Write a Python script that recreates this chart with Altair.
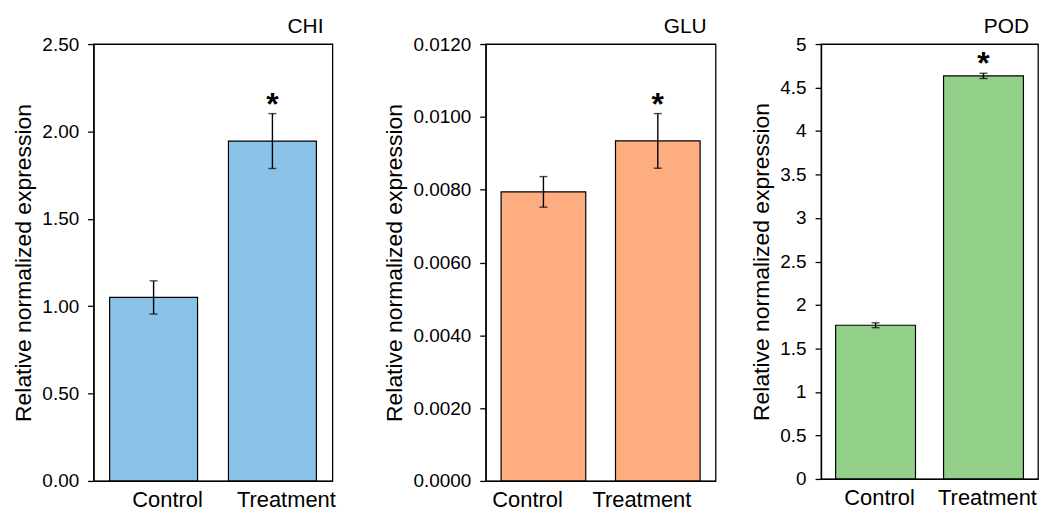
import altair as alt
import pandas as pd

groups = ["Control", "Treatment"]
signif = ["", "*"]

chi_mean = [1.05, 1.945]
chi_err = [0.095, 0.157]
glu_mean = [0.00794, 0.00934]
glu_err = [0.00042, 0.00075]
pod_mean = [1.767, 4.634]
pod_err = [0.028, 0.030]

chi_ticks = [0, 0.5, 1.0, 1.5, 2.0, 2.5]
glu_ticks = [0, 0.002, 0.004, 0.006, 0.008, 0.010, 0.012]
pod_ticks = [0, 0.5, 1, 1.5, 2, 2.5, 3, 3.5, 4, 4.5, 5]

FONT = "Liberation Sans"


def panel(gene, means, errs, color, ticks, fmt, width, height, label_offset):
    df = pd.DataFrame({
        "group": groups,
        "mean": means,
        "lo": [m - e for m, e in zip(means, errs)],
        "hi": [m + e for m, e in zip(means, errs)],
        "mark": signif,
    })
    x = alt.X(
        "group:N", sort=groups,
        scale=alt.Scale(paddingInner=0.26, paddingOuter=0.135),
        axis=alt.Axis(title=None, labelAngle=0, ticks=False, labelFontSize=22,
                      labelOffset=label_offset, labelPadding=9),
    )
    ysc = alt.Scale(domain=[ticks[0], ticks[-1]], nice=False, zero=True)
    y = alt.Y(
        "mean:Q", scale=ysc,
        axis=alt.Axis(title="Relative normalized expression", titleFontSize=23,
                      titleFontWeight="normal", labelFontSize=19, values=ticks,
                      format=fmt, tickSize=6, labelPadding=9, grid=False,
                      titlePadding=6),
    )
    base = alt.Chart(df)
    bars = base.mark_bar(color=color, stroke="black", strokeWidth=1.2).encode(x=x, y=y)
    err = base.mark_rule(color="black", strokeWidth=1.4).encode(
        x=alt.X("group:N", sort=groups), y=alt.Y("lo:Q", scale=ysc), y2="hi:Q")
    cap_lo = base.mark_tick(color="black", size=8, thickness=1.4).encode(
        x=alt.X("group:N", sort=groups), y=alt.Y("lo:Q", scale=ysc))
    cap_hi = base.mark_tick(color="black", size=8, thickness=1.4).encode(
        x=alt.X("group:N", sort=groups), y=alt.Y("hi:Q", scale=ysc))
    star = base.mark_text(fontSize=32, fontWeight="bold", baseline="alphabetic",
                          dy=1, color="black").encode(
        x=alt.X("group:N", sort=groups), y=alt.Y("hi:Q", scale=ysc), text="mark:N")
    return alt.layer(bars, err, cap_lo, cap_hi, star).properties(
        width=width, height=height,
        title=alt.TitleParams(gene, anchor="end", frame="group", fontSize=21,
                              fontWeight="normal", dx=-9, offset=-2, color="black"),
    )


p1 = panel("CHI", chi_mean, chi_err, "#8BC3E8", chi_ticks, ".2f", 240, 439, 14)
p2 = panel("GLU", glu_mean, glu_err, "#FDAD7F", glu_ticks, ".4f", 231, 439, -16)
p3 = panel("POD", pod_mean, pod_err, "#93D18A", pod_ticks, "~g", 218, 437, 4)

chart = alt.hconcat(
    alt.hconcat(p1, p2, spacing=47), p3, spacing=33
).properties(
    padding={"left": 4, "top": 6, "right": 0, "bottom": 0}
).configure(
    font=FONT
).configure_view(
    stroke="black", strokeWidth=1.3
).configure_axis(
    labelColor="black", titleColor="black", domainColor="black",
    tickColor="black", domainWidth=1.3, tickWidth=1.3, labelFont=FONT, titleFont=FONT
).configure_title(font=FONT)

chart.save("out.html", embed_options={"renderer": "svg", "actions": False})
